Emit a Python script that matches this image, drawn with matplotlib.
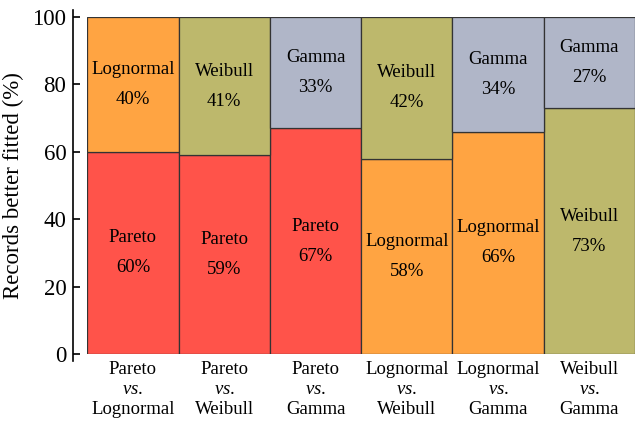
import matplotlib
matplotlib.use("Agg")
import matplotlib.pyplot as plt

plt.rcParams['font.family'] = ['Liberation Serif', 'DejaVu Serif']
plt.rcParams['mathtext.fontset'] = 'custom'
plt.rcParams['mathtext.rm'] = 'Liberation Serif'
plt.rcParams['mathtext.it'] = 'Liberation Serif:italic'

pairs = ["Pareto\n$\\it{vs.}$\nLognormal", "Pareto\n$\\it{vs.}$\nWeibull", "Pareto\n$\\it{vs.}$\nGamma",
         "Lognormal\n$\\it{vs.}$\nWeibull", "Lognormal\n$\\it{vs.}$\nGamma", "Weibull\n$\\it{vs.}$\nGamma"]
bottom_names = ["Pareto", "Pareto", "Pareto", "Lognormal", "Lognormal", "Weibull"]
top_names = ["Lognormal", "Weibull", "Gamma", "Weibull", "Gamma", "Gamma"]
bottom_vals = [60, 59, 67, 58, 66, 73]
top_vals = [40, 41, 33, 42, 34, 27]

colors = {"Pareto": "#ff534a", "Lognormal": "#ffa442", "Weibull": "#bdb86c", "Gamma": "#b0b6c8"}

fig = plt.figure(figsize=(6.37, 4.25), dpi=100)
ax = fig.add_axes([0.137, 0.167, 0.86, 0.793])

x = list(range(len(pairs)))
ax.bar(x, bottom_vals, width=1, color=[colors[n] for n in bottom_names],
       edgecolor="#333333", linewidth=0.9)
ax.bar(x, top_vals, width=1, bottom=bottom_vals, color=[colors[n] for n in top_names],
       edgecolor="#333333", linewidth=0.9)

for i in x:
    b = bottom_vals[i]
    t = top_vals[i]
    ax.text(i, b / 2, f"{bottom_names[i]}\n{b}%", ha="center", va="center",
            fontsize=13.5, linespacing=2.0)
    ax.text(i, b + t / 2, f"{top_names[i]}\n{t}%", ha="center", va="center",
            fontsize=13.5, linespacing=2.0)

ax.set_xlim(-0.5, 5.5)
ax.set_ylim(0, 100)
ax.set_xticks(x)
ax.set_xticklabels(pairs, fontsize=13.5, linespacing=1.22)
ax.tick_params(axis="x", length=0, pad=5)
ax.tick_params(axis="y", labelsize=16.5, direction="in", length=5, width=1.2, pad=5)
ax.set_yticks([0, 20, 40, 60, 80, 100])
ax.set_ylabel("Records better fitted (%)", fontsize=16.5, labelpad=6)

for s in ["top", "right", "bottom"]:
    ax.spines[s].set_visible(False)
ax.spines["left"].set_position(("outward", 10))
ax.spines["left"].set_linewidth(1.2)
ax.spines["left"].set_bounds(-2.2, 102.2)

fig.savefig("out.png", dpi=100)
